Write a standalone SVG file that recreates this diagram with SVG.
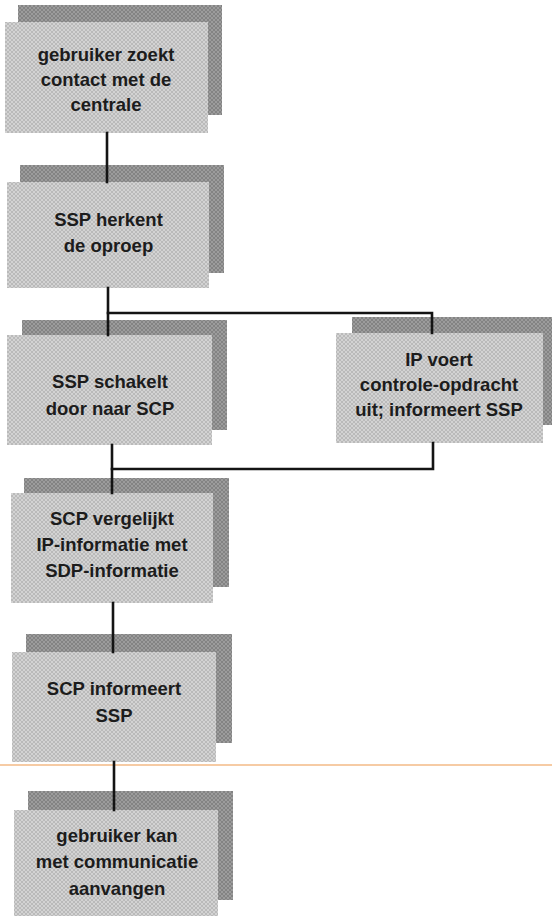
<svg xmlns="http://www.w3.org/2000/svg" width="552" height="916" viewBox="0 0 552 916">
  <defs>
    <!-- fine crosshatch screen used for the box fills -->
    <pattern id="screenLight" width="4" height="4" patternUnits="userSpaceOnUse">
      <rect width="4" height="4" fill="#d3d3d3"/>
      <path d="M0 0L4 4M4 0L0 4" stroke="#b4b4b4" stroke-width="0.8"/>
    </pattern>
    <pattern id="screenDark" width="4" height="4" patternUnits="userSpaceOnUse">
      <rect width="4" height="4" fill="#9c9c9c"/>
      <path d="M0 0L4 4M4 0L0 4" stroke="#7c7c7c" stroke-width="0.8"/>
    </pattern>
  </defs>
  <style>
    .back { fill: url(#screenDark); }
    .front { fill: url(#screenLight); }
    .label { font-family: "Liberation Sans", Arial, Helvetica, sans-serif; font-weight: bold; font-size: 18.5px; fill: #1c1c1c; text-anchor: middle; }
    .wire { fill: none; stroke: #141414; stroke-width: 2.6; stroke-linecap: square; stroke-linejoin: miter; }
    .rule { stroke: #f6cba4; stroke-width: 2; }
  </style>

  <rect width="552" height="916" fill="#ffffff"/>

  <!-- thin horizontal rule across the page -->
  <line class="rule" x1="0" y1="765" x2="552" y2="765"/>

  <!-- boxes: a darker offset panel behind a light panel -->
  <g id="node-gebruiker-zoekt">
    <rect class="back" x="18" y="5" width="204" height="110"/>
    <rect class="front" x="5" y="22" width="203" height="111"/>
    <text class="label" x="106" y="61">gebruiker zoekt</text>
    <text class="label" x="106" y="86">contact met de</text>
    <text class="label" x="106" y="111">centrale</text>
  </g>

  <g id="node-ssp-herkent">
    <rect class="back" x="20" y="165" width="204" height="108"/>
    <rect class="front" x="7" y="182" width="202" height="106"/>
    <text class="label" x="108.5" y="226">SSP herkent</text>
    <text class="label" x="108.5" y="252">de oproep</text>
  </g>

  <g id="node-ssp-schakelt">
    <rect class="back" x="22" y="320" width="205" height="110"/>
    <rect class="front" x="7" y="335" width="205" height="110"/>
    <text class="label" x="110" y="388">SSP schakelt</text>
    <text class="label" x="110" y="415">door naar SCP</text>
  </g>

  <g id="node-ip-voert">
    <rect class="back" x="352" y="317" width="210" height="108"/>
    <rect class="front" x="336" y="333" width="207" height="110"/>
    <text class="label" x="439" y="366">IP voert</text>
    <text class="label" x="439" y="391">controle-opdracht</text>
    <text class="label" x="439" y="416">uit; informeert SSP</text>
  </g>

  <g id="node-scp-vergelijkt">
    <rect class="back" x="24" y="478" width="205" height="109"/>
    <rect class="front" x="11" y="493" width="202" height="110"/>
    <text class="label" x="112" y="525">SCP vergelijkt</text>
    <text class="label" x="112" y="551">IP-informatie met</text>
    <text class="label" x="112" y="577">SDP-informatie</text>
  </g>

  <g id="node-scp-informeert">
    <rect class="back" x="26" y="634" width="206" height="109"/>
    <rect class="front" x="12" y="652" width="204" height="110"/>
    <text class="label" x="114" y="695">SCP informeert</text>
    <text class="label" x="114" y="722">SSP</text>
  </g>

  <g id="node-gebruiker-kan">
    <rect class="back" x="28" y="791" width="205" height="109"/>
    <rect class="front" x="14" y="810" width="204" height="106"/>
    <text class="label" x="117" y="842">gebruiker kan</text>
    <text class="label" x="117" y="868">met communicatie</text>
    <text class="label" x="117" y="895">aanvangen</text>
  </g>

  <!-- connectors -->
  <g id="connectors">
    <path class="wire" d="M107 133V182"/>
    <path class="wire" d="M108 288V335"/>
    <path class="wire" d="M108 313H432V333"/>
    <path class="wire" d="M112 445V493"/>
    <path class="wire" d="M112 469H433V443"/>
    <path class="wire" d="M113 603V652"/>
    <path class="wire" d="M114 762V810"/>
  </g>
</svg>
